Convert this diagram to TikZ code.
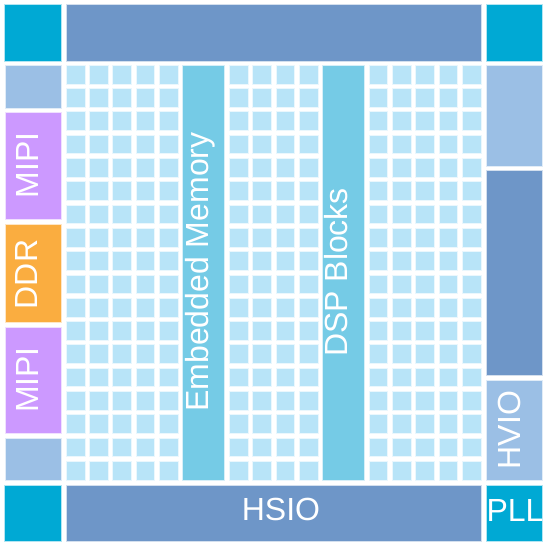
\documentclass[tikz,border=0pt]{standalone}
\usepackage{fontspec}
\setmainfont{Liberation Sans}
\definecolor{cyanc}{HTML}{00A9D4}
\definecolor{darkc}{HTML}{6E96C8}
\definecolor{lightc}{HTML}{9BBFE5}
\definecolor{purplec}{HTML}{CC99FF}
\definecolor{orangec}{HTML}{FAAD40}
\definecolor{cellc}{HTML}{B8E4F8}
\definecolor{colc}{HTML}{75CBE6}
\tikzset{
  lbl/.style={text=white, font=\fontsize{32}{38}\selectfont, inner sep=0pt,
              text height=0.716em, text depth=0pt, anchor=center},
  vlbl/.style={lbl, rotate=90},
  blk/.style={draw=white!70!#1, line width=0.4pt, fill=#1}
}
\begin{document}
\begin{tikzpicture}[x=1pt,y=-1pt]
\useasboundingbox (0,0) rectangle (548,546);
\fill[white] (0,0) rectangle (548,546);
% corners and bars
\filldraw[blk=cyanc] (4,4) rectangle (61,61);
\filldraw[blk=darkc] (66,4) rectangle (481,61);
\filldraw[blk=cyanc] (486,4) rectangle (542,61);
\filldraw[blk=cyanc] (4,485) rectangle (61,541);
\filldraw[blk=darkc] (66,485) rectangle (481,541);
\filldraw[blk=cyanc] (486,485) rectangle (542,541);
% left column
\filldraw[blk=lightc] (5,65) rectangle (61,108);
\filldraw[blk=purplec] (5,112) rectangle (61,219);
\filldraw[blk=orangec] (5,224) rectangle (61,322);
\filldraw[blk=purplec] (5,327) rectangle (61,433);
\filldraw[blk=lightc] (5,438) rectangle (61,480);
% right column
\filldraw[blk=lightc] (486,65) rectangle (542,166);
\filldraw[blk=darkc] (486,170) rectangle (542,375);
\filldraw[blk=lightc] (486,380) rectangle (542,480);
% grid cells
\foreach \i in {0,...,17}{
  \ifnum\i=5\else\ifnum\i=6\else\ifnum\i=11\else\ifnum\i=12\else
  \foreach \j in {0,...,17}{
    \filldraw[blk=cellc] ({66+\i*23.3},{65+\j*23.3}) rectangle ++(18.7,18.7);
  }
  \fi\fi\fi\fi
}
% memory and DSP columns
\filldraw[blk=colc] (182.5,65) rectangle (224.5,480);
\filldraw[blk=colc] (322.3,65) rectangle (364.3,480);
% labels
\node[vlbl] (mem) at (204.5,272) {Embedded Memory};
\node[vlbl] (dsp) at (344,272.5) {DSP Blocks};
\node[vlbl] (mipi1) at (34.5,165.5) {MIPI};
\node[vlbl] (ddr) at (34,274.5) {DDR};
\node[vlbl] (mipi2) at (34.5,380) {MIPI};
\node[vlbl] (hvio) at (516.5,430) {HVIO};
\node[lbl] (hsio) at (281,516.5) {HSIO};
\node[lbl] (pll) at (515,517.5) {PLL};
\end{tikzpicture}
\end{document}
